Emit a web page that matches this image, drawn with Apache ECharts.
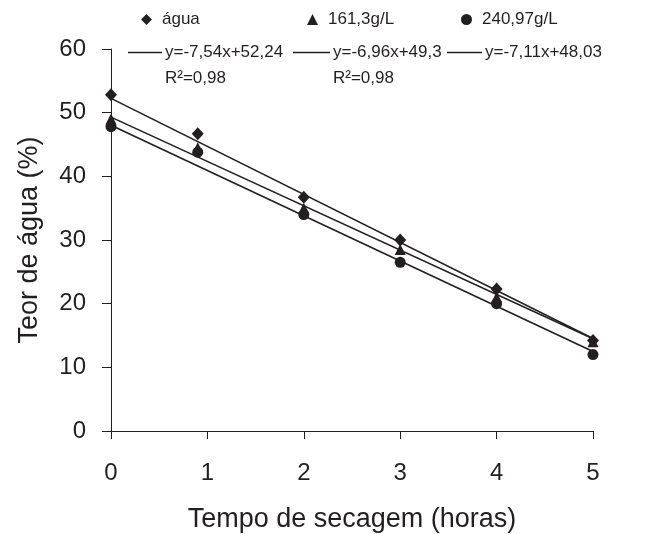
<!doctype html>
<html>
<head>
    <meta charset="utf-8">
    <title>Teor de água</title>
    <script src="https://cdn.jsdelivr.net/npm/echarts@6/dist/echarts.min.js"></script>
    <style>
        html, body { margin: 0; padding: 0; background: #fff; }
        #main { width: 672px; height: 534px; }
    </style>
</head>
<body>
    <div id="main"></div>
    <script type="text/javascript">
        // tempo de secagem (horas)
        var horas = [0, 0.9, 2, 3, 4, 5];
        // teor de água (%)
        var agua = [52.8, 46.7, 36.7, 30.0, 22.3, 14.2];
        var sol161 = [49.0, 44.5, 35.0, 28.5, 21.0, 14.0];
        var sol240 = [47.8, 43.8, 34.0, 26.5, 20.0, 12.0];
        // retas de regressão (extremos em x=0 e x=5)
        var retaX = [0, 5];
        var retaAgua = [52.24, 14.54];
        var reta161 = [49.3, 14.5];
        var reta240 = [48.03, 12.48];
        var xTicks = [0, 1, 2, 3, 4, 5];
        var yTicks = [0, 10, 20, 30, 40, 50, 60];

        var nomes = ['água', '161,3g/L', '240,97g/L'];
        var equacoes = ['y=-7,54x+52,24', 'y=-6,96x+49,3', 'y=-7,11x+48,03'];

        function pares(xs, ys) {
            return xs.map(function (x, i) { return [x, ys[i]]; });
        }

        var cor = '#231f20';
        var fonte = 'Liberation Sans, Arial, sans-serif';

        var myChart = echarts.init(document.getElementById('main'));
        var legendBase = {
            orient: 'horizontal',
            padding: 0,
            itemGap: 0,
            textStyle: { fontFamily: fonte, fontSize: 17, color: cor },
            selectedMode: false
        };
        function leg(nome, left, top, extra) {
            return Object.assign({}, legendBase, { data: [nome], left: left, top: top }, extra);
        }
        var marcador = { itemWidth: 11, itemHeight: 11, textStyle: Object.assign({}, legendBase.textStyle, { padding: [0, 0, 0, 5] }) };
        var traco = { icon: 'rect', itemHeight: 1.5, itemStyle: { color: cor }, textStyle: Object.assign({}, legendBase.textStyle, { padding: [0, 0, 0, -2] }) };

        var option = {
            animation: false,
            backgroundColor: '#fff',
            textStyle: { fontFamily: fonte },
            legend: [
                leg(nomes[0], 141, 11, marcador),
                leg(nomes[1], 307, 11, marcador),
                leg(nomes[2], 461, 11, marcador),
                leg(equacoes[0], 128, 44, Object.assign({ itemWidth: 34 }, traco)),
                leg(equacoes[1], 293, 44, Object.assign({ itemWidth: 37 }, traco)),
                leg(equacoes[2], 447, 44, Object.assign({ itemWidth: 35 }, traco))
            ],
            graphic: [
                { type: 'text', left: 165, top: 70, style: { text: 'R²=0,98', font: '17px ' + fonte, fill: cor } },
                { type: 'text', left: 333, top: 70, style: { text: 'R²=0,98', font: '17px ' + fonte, fill: cor } }
            ],
            grid: { left: 111, right: 79, top: 49, bottom: 103, outerBoundsMode: 'none', containLabel: false },
            xAxis: {
                type: 'value',
                min: xTicks[0],
                max: xTicks[xTicks.length - 1],
                interval: 1,
                name: 'Tempo de secagem (horas)',
                nameLocation: 'middle',
                nameGap: 75,
                nameTextStyle: { fontSize: 27, color: cor, fontFamily: fonte },
                axisLine: { lineStyle: { color: cor, width: 1 } },
                axisTick: { inside: false, length: 8, lineStyle: { color: cor } },
                axisLabel: { fontSize: 24, color: cor, margin: 30, fontFamily: fonte },
                splitLine: { show: false }
            },
            yAxis: {
                type: 'value',
                min: yTicks[0],
                max: yTicks[yTicks.length - 1],
                interval: 10,
                name: 'Teor de água (%)',
                nameLocation: 'middle',
                nameGap: 68,
                nameTextStyle: { fontSize: 27, color: cor, fontFamily: fonte },
                axisLine: { show: true, lineStyle: { color: cor, width: 1 } },
                axisTick: { show: true, inside: false, length: 9, lineStyle: { color: cor } },
                axisLabel: { fontSize: 24, color: cor, margin: 25, fontFamily: fonte },
                splitLine: { show: false }
            },
            series: [
                { name: equacoes[0], type: 'line', data: pares(retaX, retaAgua), showSymbol: false, lineStyle: { color: cor, width: 1.6 }, itemStyle: { color: cor }, z: 2 },
                { name: equacoes[1], type: 'line', data: pares(retaX, reta161), showSymbol: false, lineStyle: { color: cor, width: 1.6 }, itemStyle: { color: cor }, z: 2 },
                { name: equacoes[2], type: 'line', data: pares(retaX, reta240), showSymbol: false, lineStyle: { color: cor, width: 1.6 }, itemStyle: { color: cor }, z: 2 },
                { name: nomes[0], type: 'scatter', symbol: 'diamond', symbolSize: [12, 13], data: pares(horas, agua), itemStyle: { color: cor, opacity: 1 }, z: 3 },
                { name: nomes[1], type: 'scatter', symbol: 'triangle', symbolSize: [11, 11], data: pares(horas, sol161), itemStyle: { color: cor, opacity: 1 }, z: 3 },
                { name: nomes[2], type: 'scatter', symbol: 'circle', symbolSize: 11, data: pares(horas, sol240), itemStyle: { color: cor, opacity: 1 }, z: 3 }
            ]
        };

        myChart.setOption(option);
    </script>
</body>
</html>
